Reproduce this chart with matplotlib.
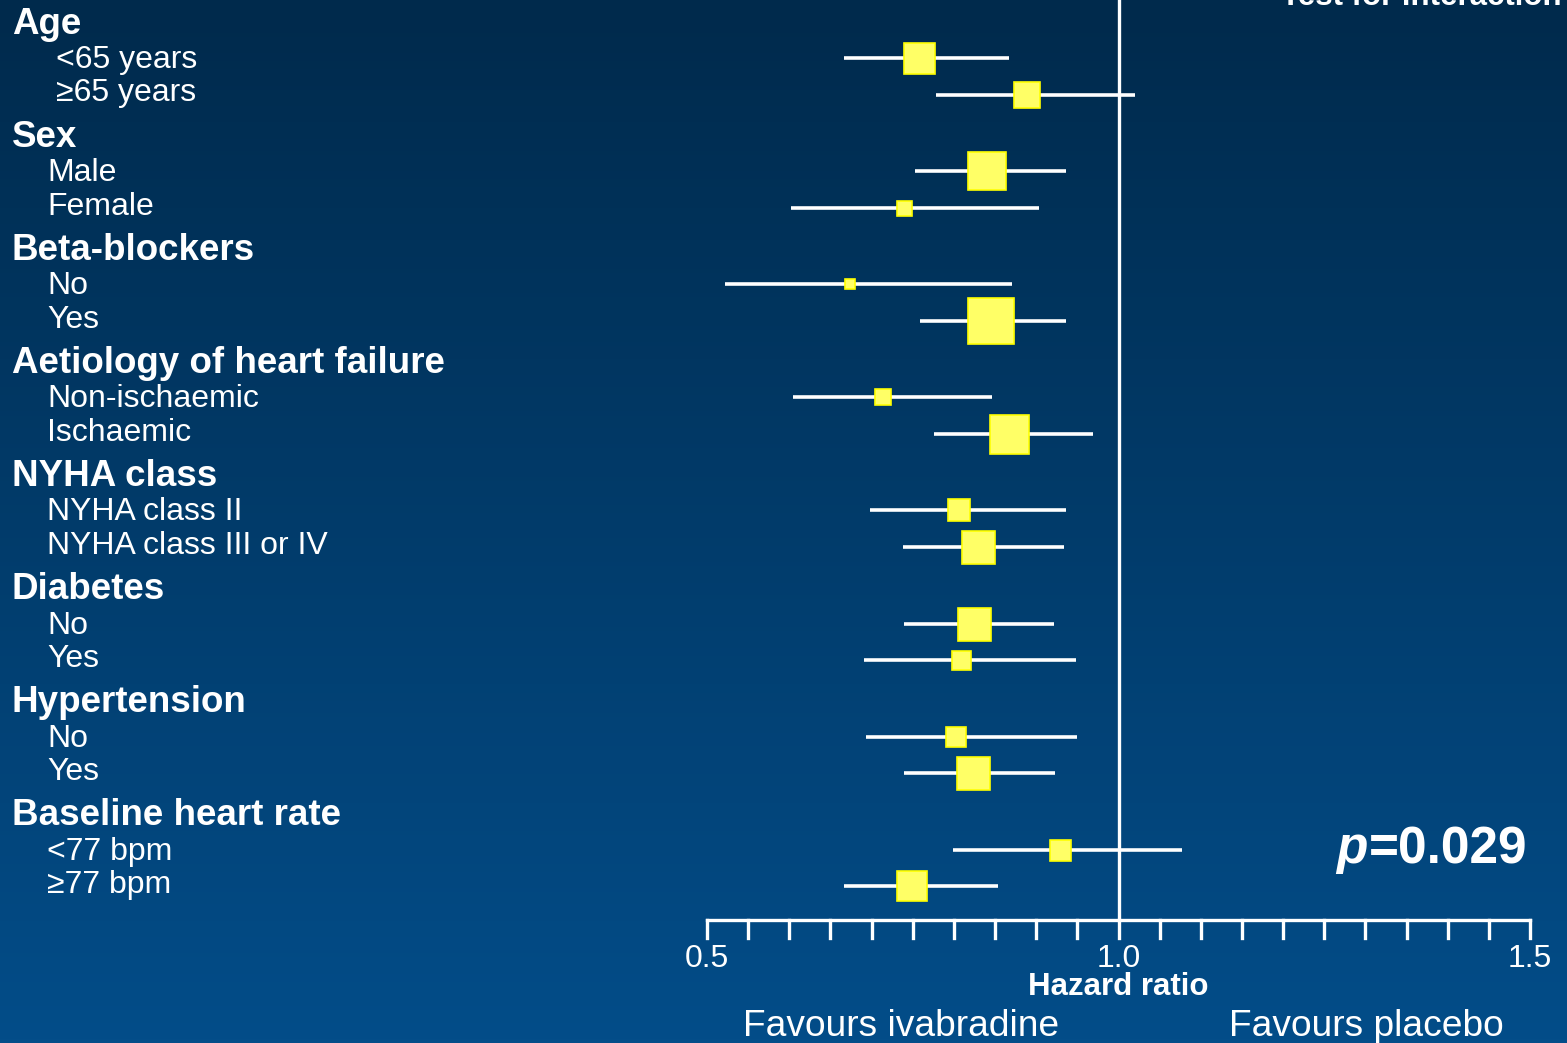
"""
Forest plot of hazard ratios by subgroup (ivabradine vs placebo).
"""
import numpy as np
import matplotlib.pyplot as plt

plt.rcParams['font.family'] = ['Liberation Sans', 'DejaVu Sans']

# Data
groups = ['Age', 'Sex', 'Beta-blockers', 'Aetiology of heart failure',
          'NYHA class', 'Diabetes', 'Hypertension', 'Baseline heart rate']
subgroups = [['<65 years', '≥65 years'],
             ['Male', 'Female'],
             ['No', 'Yes'],
             ['Non-ischaemic', 'Ischaemic'],
             ['NYHA class II', 'NYHA class III or IV'],
             ['No', 'Yes'],
             ['No', 'Yes'],
             ['<77 bpm', '≥77 bpm']]
hr = [0.758, 0.889, 0.840, 0.739, 0.674, 0.845, 0.714, 0.867,
      0.806, 0.829, 0.824, 0.809, 0.803, 0.823, 0.929, 0.749]
ci_low = [0.666, 0.778, 0.753, 0.602, 0.522, 0.759, 0.604, 0.776,
          0.698, 0.738, 0.739, 0.691, 0.693, 0.739, 0.799, 0.666]
ci_high = [0.867, 1.020, 0.936, 0.903, 0.871, 0.936, 0.846, 0.969,
           0.936, 0.934, 0.922, 0.948, 0.950, 0.923, 1.077, 0.854]
# relative weight shown as box side (pixels)
weight = [31, 27, 38, 15, 10, 47, 16, 39, 22, 33, 33, 19, 20, 33, 21, 30]
p_interaction = '0.029'

# Layout (pixel based, figure is 1567 x 1043 at dpi 100)
W, H = 1567, 1043
X0, SCALE = 707, 823.0  # pixel of HR=0.5 and pixels per unit HR


def px(x):
    return 0.5 + (x - X0) / SCALE


fig = plt.figure(figsize=(W / 100, H / 100), dpi=100)
ax = fig.add_axes([0, 0, 1, 1])
ax.set_xlim(px(0), px(W))
ax.set_ylim(H, 0)
ax.axis('off')

# background gradient
top = np.array([0, 42, 76]) / 255
bottom = np.array([3, 77, 137]) / 255
t = np.linspace(0, 1, 256)[:, None, None]
grad = top * (1 - t) + bottom * t
grad = np.repeat(grad, 2, axis=1)
ax.imshow(grad, extent=[px(0), px(W), H, 0], aspect='auto', zorder=0)

white = 'white'
head_y0, group_step = 24, 113.1
row_y = []
for g, name in enumerate(groups):
    yh = head_y0 + g * group_step
    ax.text(px(12), yh, name, fontsize=26.5, fontweight='bold', color=white,
            va='center', ha='left')
    indent = 56 if g == 0 else 47
    for k, sub in enumerate(subgroups[g]):
        ys = yh + 35 + k * 33.5
        ax.text(px(indent), ys + 1, sub, fontsize=23, color=white, va='center', ha='left')
        row_y.append(ys - 1 + (3 if k == 1 else 0))

# reference line at 1.0
axis_y = 920
ax.plot([1.0, 1.0], [0, axis_y], color=white, lw=2.4, zorder=2)

# CI lines and boxes
for y, h, lo, hi_, w in zip(row_y, hr, ci_low, ci_high, weight):
    ax.plot([lo, hi_], [y, y], color=white, lw=2.6, solid_capstyle='butt', zorder=3)
    ax.plot([h], [y], marker='s', markersize=w * 0.72, markerfacecolor='#ffff66',
            markeredgecolor='#ffff00', markeredgewidth=1.2, zorder=4)

# x axis
ticks = np.arange(0.5, 1.5001, 0.05)
ax.plot([0.5, 1.5], [axis_y, axis_y], color=white, lw=2.4, solid_capstyle='projecting', zorder=3)
for tk in ticks:
    ax.plot([tk, tk], [axis_y, axis_y + 18], color=white, lw=2.4, zorder=3)
for tk in [0.5, 1.0, 1.5]:
    ax.text(tk, 959, f'{tk:.1f}', fontsize=23, color=white, ha='center', va='center')
ax.text(1.0, 987, 'Hazard ratio', fontsize=22.5, fontweight='bold', color=white,
        ha='center', va='center')
ax.text(px(901), 1027, 'Favours ivabradine', fontsize=26.7, color=white,
        ha='center', va='center')
ax.text(px(1366), 1027, 'Favours placebo', fontsize=26.7, color=white,
        ha='center', va='center')

# interaction test
ax.text(px(1562), 5, 'Test for interaction', fontsize=22.5, fontweight='bold',
        color=white, ha='right', va='baseline')
ax.text(px(1336), 850, 'p', fontsize=37, fontweight='bold', fontstyle='italic',
        color=white, ha='left', va='center')
ax.text(px(1527), 850, '=' + p_interaction, fontsize=37, fontweight='bold',
        color=white, ha='right', va='center')

fig.savefig('out.png', dpi=100)
plt.close(fig)
